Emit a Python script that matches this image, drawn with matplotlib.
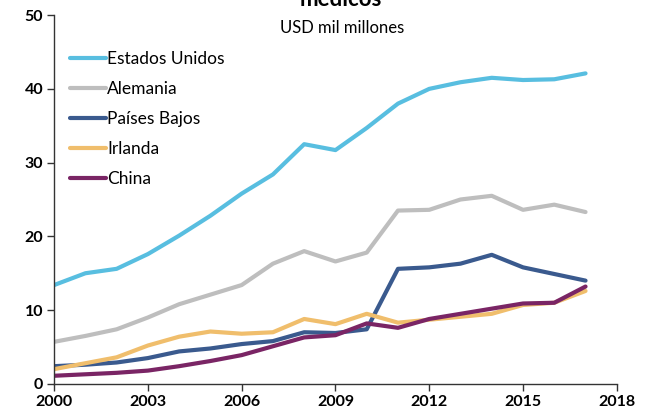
import matplotlib
matplotlib.use('Agg')
import matplotlib.pyplot as plt

years = list(range(2000, 2018))
estados_unidos = [13.4, 15.0, 15.6, 17.6, 20.1, 22.8, 25.8, 28.4, 32.5, 31.7, 34.7, 38.0, 40.0, 40.9, 41.5, 41.2, 41.3, 42.1]
alemania = [5.7, 6.5, 7.4, 9.0, 10.8, 12.1, 13.4, 16.3, 18.0, 16.6, 17.8, 23.5, 23.6, 25.0, 25.5, 23.6, 24.3, 23.3]
paises_bajos = [2.4, 2.6, 2.9, 3.5, 4.4, 4.8, 5.4, 5.8, 7.0, 6.9, 7.4, 15.6, 15.8, 16.3, 17.5, 15.8, 14.9, 14.0]
irlanda = [2.0, 2.8, 3.6, 5.2, 6.4, 7.1, 6.8, 7.0, 8.8, 8.1, 9.5, 8.3, 8.7, 9.1, 9.5, 10.7, 11.0, 12.6]
china = [1.1, 1.3, 1.5, 1.8, 2.4, 3.1, 3.9, 5.1, 6.3, 6.6, 8.2, 7.6, 8.8, 9.5, 10.2, 10.9, 11.0, 13.2]

series = [
    ('Estados Unidos', estados_unidos, '#58BEE0'),
    ('Alemania', alemania, '#BEBEBE'),
    ('Países Bajos', paises_bajos, '#3A5A8E'),
    ('Irlanda', irlanda, '#F0BE6C'),
    ('China', china, '#7A2565'),
]

plt.rcParams['font.family'] = ['Lato', 'DejaVu Sans']

fig = plt.figure(figsize=(6.52, 4.2), dpi=100)
ax = fig.add_axes([0.083, 0.086, 0.863, 0.878])

for name, vals, col in series:
    ax.plot(years, vals, color=col, lw=3, label=name, solid_capstyle='round')

ax.set_xlim(2000, 2018)
ax.set_ylim(0, 50)
ax.set_xticks(range(2000, 2019, 3))
ax.set_yticks(range(0, 51, 10))
for s in ['top', 'right']:
    ax.spines[s].set_visible(False)
for s in ['left', 'bottom']:
    ax.spines[s].set_color('#333333')
    ax.spines[s].set_linewidth(1)
ax.tick_params(axis='both', direction='out', length=5, width=1, color='#333333',
               labelsize=11.5, pad=3)
for lab in ax.get_xticklabels() + ax.get_yticklabels():
    lab.set_fontweight('bold')

leg = ax.legend(loc='upper left', bbox_to_anchor=(0.0, 0.945), frameon=False,
                fontsize=12.5, handlelength=2.1, handletextpad=0.06, labelspacing=0.8)

fig.text(0.522, 1.0, 'médicos', ha='center', va='center', fontsize=16, fontweight='bold')
fig.text(0.525, 0.933, 'USD mil millones', ha='center', va='center', fontsize=12)

fig.savefig('out.png', dpi=100)
